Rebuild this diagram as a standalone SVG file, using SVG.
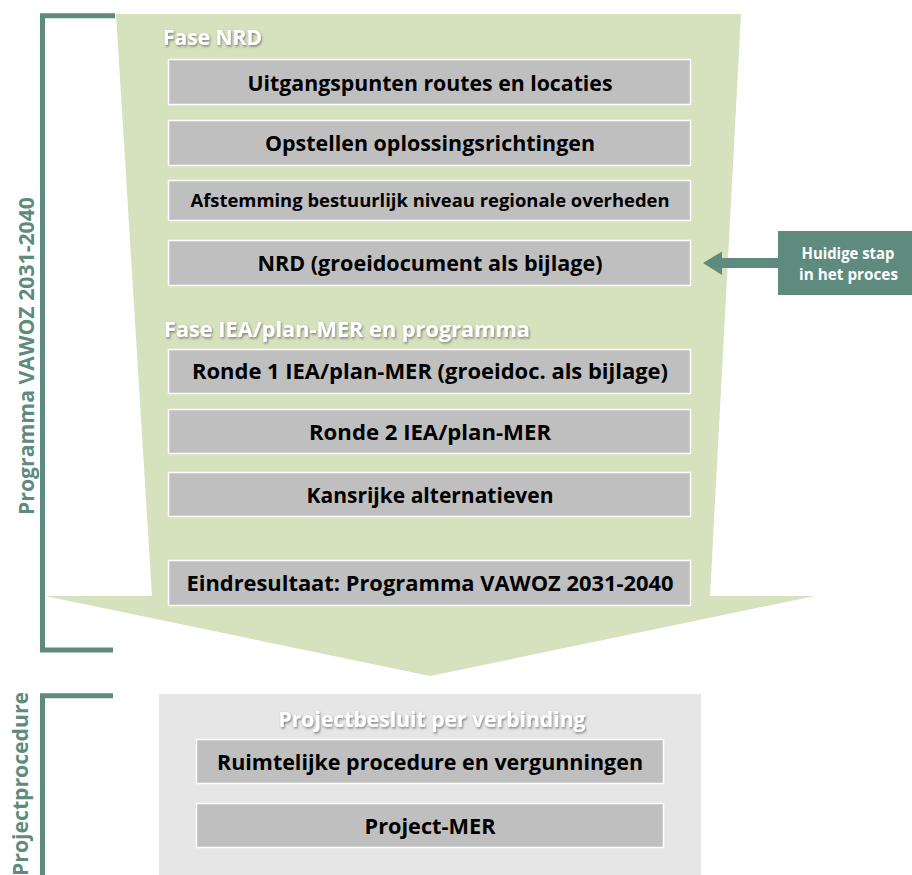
<svg xmlns="http://www.w3.org/2000/svg" width="912" height="875" viewBox="0 0 912 875">
<defs>
<filter id="sh" x="-10%" y="-30%" width="120%" height="160%">
<feDropShadow dx="1" dy="1.5" stdDeviation="0.8" flood-color="#404040" flood-opacity="0.6"/>
</filter>
<style>
.bx{fill:#BFBFBF;stroke:#FFFFFF;stroke-width:1.5}
.t{font-family:"Open Sans","Liberation Sans",sans-serif;font-weight:700;fill:#000;text-anchor:middle}
.hd{font-family:"Open Sans","Liberation Sans",sans-serif;font-weight:700;fill:#FFFFFF;filter:url(#sh)}
.br{fill:none;stroke:#5E8B7E;stroke-width:5}
.vt{font-family:"Open Sans","Liberation Sans",sans-serif;font-weight:700;fill:#5E8B7E}
</style>
</defs>
<rect width="912" height="875" fill="#FFFFFF"/>
<g id="brackets">
<path class="br" d="M115,15.8 H42.5 V650 H113"/>
<path class="br" d="M113,695.8 H42.5 V875"/>
<text class="vt" font-size="22" transform="translate(33.5,515) rotate(-90)" textLength="318" lengthAdjust="spacingAndGlyphs">Programma VAWOZ 2031-2040</text>
<text class="vt" font-size="21" text-anchor="end" transform="translate(27.5,692) rotate(-90)" textLength="184" lengthAdjust="spacingAndGlyphs">Projectprocedure</text>
</g>
<g id="funnel">
<polygon points="116,14 741,14 710,596 815,596 430,676 45,596 152,596" fill="#D6E1BE"/>
<text class="hd" x="163" y="44.5" font-size="21" textLength="99" lengthAdjust="spacingAndGlyphs">Fase NRD</text>
<text class="hd" x="164" y="337" font-size="21" textLength="366" lengthAdjust="spacingAndGlyphs">Fase IEA/plan-MER en programma</text>
</g>
<g id="n1"><rect class="bx" x="168.5" y="59.5" width="522" height="45"/><text class="t" x="430" y="91" font-size="22" textLength="365" lengthAdjust="spacingAndGlyphs">Uitgangspunten routes en locaties</text></g>
<g id="n2"><rect class="bx" x="168.5" y="120.5" width="522" height="45"/><text class="t" x="430" y="151" font-size="22" textLength="330" lengthAdjust="spacingAndGlyphs">Opstellen oplossingsrichtingen</text></g>
<g id="n3"><rect class="bx" x="168.5" y="180.5" width="522" height="40"/><text class="t" x="430" y="206.5" font-size="17.5" textLength="479" lengthAdjust="spacingAndGlyphs">Afstemming bestuurlijk niveau regionale overheden</text></g>
<g id="n4"><rect class="bx" x="168.5" y="240.5" width="522" height="45"/><text class="t" x="430" y="271" font-size="22" textLength="345" lengthAdjust="spacingAndGlyphs">NRD (groeidocument als bijlage)</text></g>
<g id="n5"><rect class="bx" x="168.5" y="349.5" width="522" height="44"/><text class="t" x="430" y="379" font-size="22" textLength="476" lengthAdjust="spacingAndGlyphs">Ronde 1 IEA/plan-MER (groeidoc. als bijlage)</text></g>
<g id="n6"><rect class="bx" x="168.5" y="409.5" width="522" height="44"/><text class="t" x="430" y="439.5" font-size="22" textLength="242" lengthAdjust="spacingAndGlyphs">Ronde 2 IEA/plan-MER</text></g>
<g id="n7"><rect class="bx" x="168.5" y="472.5" width="522" height="44"/><text class="t" x="430" y="502.5" font-size="22" textLength="247" lengthAdjust="spacingAndGlyphs">Kansrijke alternatieven</text></g>
<g id="n8"><rect class="bx" x="168.5" y="560.5" width="522" height="45"/><text class="t" x="430" y="590.5" font-size="22" textLength="487" lengthAdjust="spacingAndGlyphs">Eindresultaat: Programma VAWOZ 2031-2040</text></g>
<g id="project">
<rect x="159" y="694" width="542" height="181" fill="#E6E6E6"/>
<text class="hd" x="432" y="727" font-size="21" text-anchor="middle" textLength="307" lengthAdjust="spacingAndGlyphs">Projectbesluit per verbinding</text>
</g>
<g id="n9"><rect class="bx" x="196.5" y="739.5" width="467" height="44"/><text class="t" x="430" y="770" font-size="22" textLength="426" lengthAdjust="spacingAndGlyphs">Ruimtelijke procedure en vergunningen</text></g>
<g id="n10"><rect class="bx" x="196.5" y="803.5" width="467" height="44"/><text class="t" x="430" y="834" font-size="22" textLength="131" lengthAdjust="spacingAndGlyphs">Project-MER</text></g>
<g id="current">
<rect x="778" y="231" width="134" height="64" fill="#5E8B7E"/>
<text x="848" y="258.5" font-size="15.5" font-family="'Open Sans','Liberation Sans',sans-serif" font-weight="700" fill="#FFFFFF" text-anchor="middle" textLength="93" lengthAdjust="spacingAndGlyphs">Huidige stap</text>
<text x="848.5" y="280" font-size="15.5" font-family="'Open Sans','Liberation Sans',sans-serif" font-weight="700" fill="#FFFFFF" text-anchor="middle" textLength="99" lengthAdjust="spacingAndGlyphs">in het proces</text>
</g>
<g id="connectors">
<polygon points="778,258 722,258 722,251.5 703,263 722,275 722,268 778,268" fill="#5E8B7E"/>
</g>
</svg>
